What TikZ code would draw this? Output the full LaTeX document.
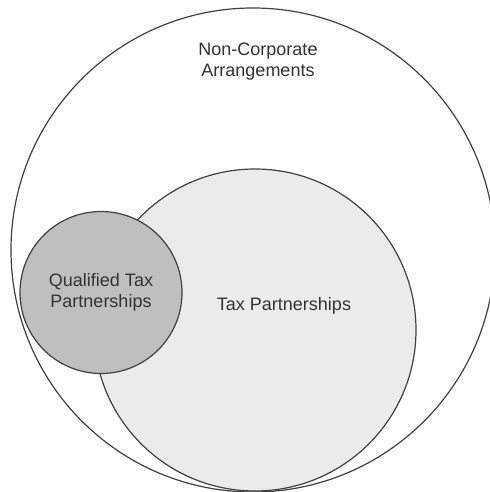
\documentclass[tikz,border=0pt]{standalone}
\usepackage{fontspec}
\setmainfont{Liberation Sans}
\begin{document}
\begin{tikzpicture}[x=0.5pt,y=-0.5pt,
        set/.style={circle,draw=black!75,line width=0.6pt,inner sep=0pt},
        setlabel/.style={align=center,text=black!80,font=\fontsize{9}{10.5}\selectfont}]
        \useasboundingbox (0,0) rectangle (489,492);
        %% the three sets
        \node[set,minimum size=242pt] (nca) at (253,250) {};
        \node[set,fill=black!8,minimum size=161pt] (tp) at (255,330) {};
        \node[set,fill=black!25,minimum size=81pt] (qtp) at (101,292.5) {};
        %% labels
        \node[setlabel] (ncalabel) at (258,61.5) {Non-Corporate\\Arrangements};
        \node[setlabel] (tplabel) at (284,306) {Tax Partnerships};
        \node[setlabel] (qtplabel) at (qtp) {Qualified Tax\\Partnerships};
    \end{tikzpicture}
\end{document}
